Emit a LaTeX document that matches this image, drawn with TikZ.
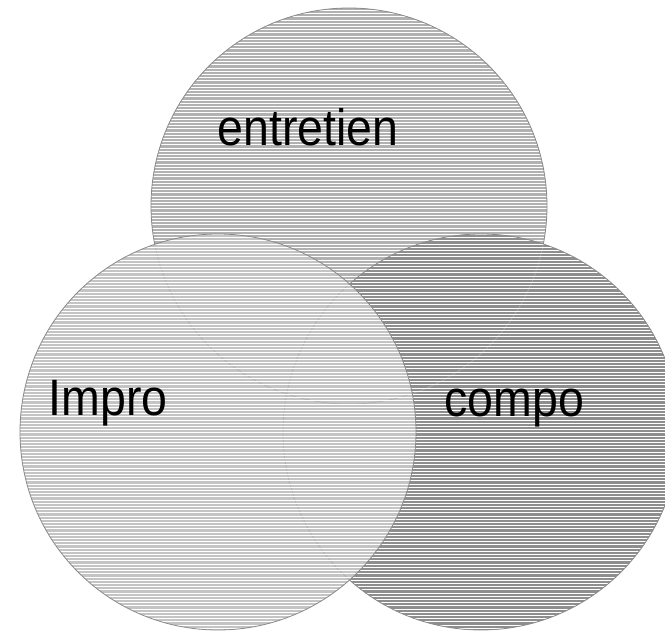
\documentclass[tikz,border=0pt]{standalone}
\usepackage{fontspec}
\setmainfont{Liberation Sans}
\definecolor{topfill}{HTML}{B1B1B1}
\definecolor{leftfill}{HTML}{C4C4C4}
\definecolor{rightfill}{HTML}{8E8E8E}
\definecolor{edge}{HTML}{8A8A8A}
\tikzset{
  hatch/.style={white, line width=1pt},
  rim/.style={draw=edge, line width=0.8pt},
  hiddenrim/.style={draw=edge!70!white, line width=0.6pt},
  lbl/.style={anchor=base, inner sep=0pt, font=\fontsize{46.5}{50}\selectfont}
}
\newcommand{\hatchlines}{\foreach \i in {0,...,200} {\draw[hatch] (0,\i*3.2+1) -- (665,\i*3.2+1);}}
\begin{document}
\begin{tikzpicture}[x=1pt,y=-1pt]
\useasboundingbox (0,0) rectangle (665,631);
\clip (0,0) rectangle (665,631);
\coordinate (ct) at (349,206);
\coordinate (cl) at (218,432);
\coordinate (cr) at (481,432);
% top circle
\fill[topfill] (ct) circle[radius=198pt];
\begin{scope}
  \clip (ct) circle[radius=198pt];
  \hatchlines
\end{scope}
\draw[rim] (ct) circle[radius=198pt];
% right circle
\fill[rightfill] (cr) circle[radius=198pt];
\begin{scope}
  \clip (cr) circle[radius=198pt];
  \draw[hiddenrim] (ct) circle[radius=198pt];
  \hatchlines
\end{scope}
\draw[rim] (cr) circle[radius=198pt];
% left circle
\fill[leftfill] (cl) circle[radius=198pt];
\begin{scope}
  \clip (cl) circle[radius=198pt];
  \draw[hiddenrim] (ct) circle[radius=198pt];
  \draw[hiddenrim] (cr) circle[radius=198pt];
  \hatchlines
\end{scope}
\draw[rim] (cl) circle[radius=198pt];
% labels
\node[lbl] (entretien) at (308,146) {\scalebox{1}[1.1]{entretien}};
\node[lbl] (impro) at (108,416) {\scalebox{1}[1.1]{Impro}};
\node[lbl] (compo) at (514.5,416.5) {\scalebox{1}[1.1]{compo}};
\end{tikzpicture}
\end{document}
